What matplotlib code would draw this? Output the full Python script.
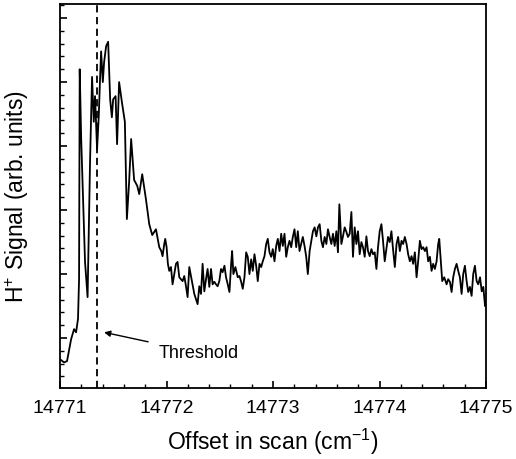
import numpy as np
import matplotlib.pyplot as plt
from matplotlib.ticker import MultipleLocator, NullFormatter

plt.rcParams['font.family'] = ['Liberation Sans', 'DejaVu Sans']
plt.rcParams['mathtext.default'] = 'regular'

# offset from 14771 cm^-1
offset = [0.000, 0.038, 0.066, 0.104, 0.132, 0.151, 0.169, 0.179, 0.185, 0.199,
          0.235, 0.259, 0.282, 0.301, 0.317, 0.329, 0.348, 0.364, 0.376, 0.386,
          0.402, 0.414, 0.433, 0.452, 0.471, 0.487, 0.499, 0.522, 0.536, 0.555,
          0.581, 0.609, 0.628, 0.649, 0.668, 0.696, 0.725, 0.744, 0.772, 0.807,
          0.838, 0.866, 0.901,
          0.932, 0.951, 0.963, 0.979, 0.988, 1.001, 1.013, 1.026, 1.042, 1.057,
          1.073, 1.089, 1.104, 1.120, 1.136, 1.151, 1.167, 1.183, 1.198, 1.214,
          1.230, 1.245, 1.261, 1.277, 1.292, 1.308, 1.324, 1.339, 1.355, 1.371,
          1.386, 1.402, 1.418, 1.433, 1.449, 1.465, 1.480, 1.496, 1.512, 1.527,
          1.544, 1.559, 1.575, 1.591, 1.607, 1.616, 1.628, 1.647, 1.669, 1.685,
          1.701, 1.716, 1.732, 1.748, 1.763, 1.779, 1.795, 1.810, 1.826, 1.842,
          1.857, 1.873, 1.889, 1.904, 1.920, 1.936, 1.951, 1.967, 1.983, 1.998,
          2.014, 2.030, 2.045, 2.061, 2.077, 2.092, 2.108, 2.124, 2.139, 2.155,
          2.171, 2.186, 2.202, 2.218, 2.233, 2.249, 2.265, 2.280, 2.296, 2.312,
          2.327, 2.344, 2.360, 2.375, 2.391, 2.407, 2.422, 2.438, 2.454, 2.469,
          2.485, 2.501, 2.516,
          2.532, 2.548, 2.563, 2.579, 2.595, 2.610, 2.623, 2.642, 2.657, 2.673,
          2.689, 2.704, 2.720, 2.736, 2.751, 2.767, 2.783, 2.798, 2.814, 2.830,
          2.845, 2.861, 2.877, 2.892, 2.908, 2.924, 2.939, 2.955, 2.971, 2.986,
          3.002, 3.018, 3.033, 3.049, 3.065, 3.080, 3.096, 3.112, 3.127, 3.144,
          3.160, 3.175, 3.191, 3.207, 3.222, 3.238, 3.254, 3.269, 3.285, 3.301,
          3.316, 3.332, 3.348, 3.363, 3.379, 3.395, 3.410, 3.426, 3.442, 3.457,
          3.473, 3.489, 3.504, 3.520, 3.536, 3.551, 3.561, 3.576, 3.589, 3.608,
          3.630, 3.645, 3.661, 3.677, 3.692, 3.708, 3.724, 3.739, 3.755, 3.771,
          3.786, 3.802, 3.818, 3.833, 3.849, 3.865, 3.880, 3.896, 3.912, 3.927,
          3.944, 3.960, 3.975, 3.991, 4.000]

signal = [0.67, 0.62, 0.64, 0.98, 1.14, 1.09, 1.30, 1.92, 5.20, 4.11,
          2.19, 1.64, 3.75, 5.08, 4.38, 4.78, 3.95, 4.47, 5.05, 5.48,
          5.00, 5.31, 5.56, 5.63, 4.73, 4.45, 4.73, 4.78, 4.03, 5.00,
          4.69, 4.38, 2.86, 3.44, 4.11, 3.47, 3.38, 3.25, 3.56, 3.17,
          2.78, 2.61, 2.70,
          2.42, 2.36, 2.28, 2.47, 2.55, 2.42, 2.16, 2.05, 2.11, 1.84,
          2.00, 2.16, 2.19, 1.95, 1.92, 1.89, 1.97, 1.81, 1.64, 2.11,
          1.97, 1.84, 1.69, 1.61, 1.53, 1.81, 1.69, 2.16, 1.73, 1.92,
          2.08, 1.80, 2.08, 1.84, 1.88, 1.84, 1.81, 1.89, 2.08, 2.03,
          2.13, 1.95, 1.84, 1.72, 2.16, 2.36, 2.00, 2.11, 1.95, 1.97,
          1.88, 1.77, 1.95, 2.34, 2.27, 2.00, 2.23, 2.05, 2.31, 2.13,
          1.89, 2.16, 2.11, 2.20, 2.28, 2.47, 2.55, 2.34, 2.27, 2.39,
          2.20, 2.44, 2.55, 2.36, 2.63, 2.44, 2.63, 2.27, 2.42, 2.52,
          2.42, 2.58, 2.70, 2.42, 2.67, 2.36, 2.47, 2.58, 2.44, 2.27,
          2.00, 2.36, 2.52, 2.67, 2.73, 2.59, 2.73, 2.78, 2.52, 2.42,
          2.58, 2.47, 2.70,
          2.58, 2.47, 2.63, 2.44, 2.67, 2.34, 3.09, 2.47, 2.59, 2.73,
          2.66, 2.58, 2.63, 2.97, 2.27, 2.73, 2.47, 2.67, 2.31, 2.50,
          2.42, 2.27, 2.59, 2.36, 2.28, 2.39, 2.31, 2.34, 2.08, 2.42,
          2.67, 2.78, 2.52, 2.20, 2.39, 2.58, 2.50, 2.67, 2.39, 2.11,
          2.47, 2.58, 2.36, 2.52, 2.47, 2.58, 2.47, 2.31, 2.20, 2.28,
          2.16, 2.34, 1.95, 2.20, 2.52, 2.39, 2.42, 2.36, 2.42, 2.20,
          2.27, 2.05, 2.16, 2.08, 2.20, 2.47, 2.55, 2.20, 1.89, 1.95,
          1.84, 1.92, 1.88, 1.72, 1.95, 2.08, 2.16, 2.05, 1.95, 1.69,
          2.00, 2.13, 1.89, 1.72, 1.80, 1.66, 2.00, 2.13, 1.89, 1.84,
          1.95, 1.73, 1.80, 1.50, 1.58]

base = 14771
threshold = 14771.345

x = base + np.array(offset)
y = np.array(signal)

fig = plt.figure(figsize=(5.16, 4.6), dpi=100)
ax = fig.add_axes([60/516, 1 - 389/460, 426/516, 384/460])

ax.plot(x, y, color='black', lw=1.3)
ax.axvline(threshold, color='black', lw=1.3, ls=(0, (4, 2.5)))

ax.annotate('Threshold', xy=(14771.414, 1.09), xytext=(14771.93, 0.77),
            fontsize=13, va='center', ha='left',
            arrowprops=dict(arrowstyle='-|>', color='black', lw=1.0,
                            mutation_scale=9, shrinkB=0, shrinkA=6))

ax.set_xlim(14771, 14775)
ax.set_ylim(0.22, 6.22)
ax.xaxis.set_major_locator(MultipleLocator(1))
ax.xaxis.set_minor_locator(MultipleLocator(0.2))
ax.yaxis.set_major_locator(MultipleLocator(1))
ax.yaxis.set_minor_locator(MultipleLocator(0.2))
ax.yaxis.set_major_formatter(NullFormatter())
ax.xaxis.get_major_formatter().set_useOffset(False)

ax.tick_params(which='both', direction='in', top=False, right=False)
ax.tick_params(which='major', length=5, width=1.2, labelsize=14, pad=8)
ax.tick_params(which='minor', length=3, width=1.0)
for s in ax.spines.values():
    s.set_linewidth(1.3)

ax.set_xlabel('Offset in scan (cm$^{-1}$)', fontsize=16.5, labelpad=7)
ax.set_ylabel('H$^{+}$ Signal (arb. units)', fontsize=16.5, labelpad=13)

plt.savefig('out.png', dpi=100)
